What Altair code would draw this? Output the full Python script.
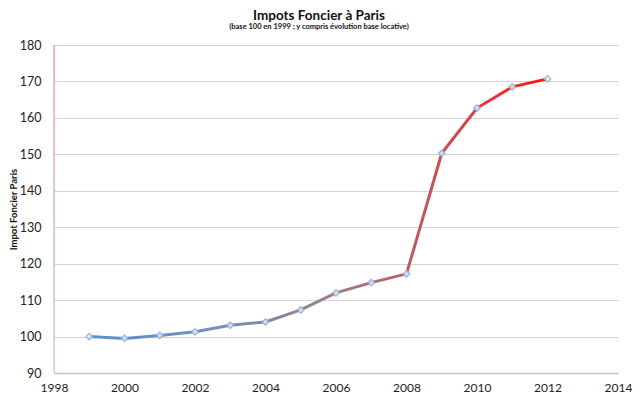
import altair as alt
import pandas as pd

years = [1999, 2000, 2001, 2002, 2003, 2004, 2005, 2006, 2007, 2008, 2009, 2010, 2011, 2012]
values = [100.0, 99.5, 100.3, 101.3, 103.1, 104.0, 107.3, 112.0, 114.8, 117.2, 150.3, 162.7, 168.5, 170.7]

x_ticks = [1998, 2000, 2002, 2004, 2006, 2008, 2010, 2012, 2014]
y_ticks = [90, 100, 110, 120, 130, 140, 150, 160, 170, 180]

title_text = "Impots Foncier à Paris"
subtitle_text = "(base 100 en 1999 ; y compris évolution base locative)"
y_title = "Impot Foncier Paris"

df = pd.DataFrame({"year": years, "value": values})
FONT = "Lato"
PLOT_H = 328

x_axis = alt.Axis(values=x_ticks, format="d", title=None, grid=False, ticks=False,
                  domain=True, domainColor="#c6c6c6", domainWidth=1.5,
                  labelPadding=9, labelFontSize=12, labelColor="#222222", labelFont=FONT,
                  labelFlush=False, labelOverlap=False)
y_axis = alt.Axis(values=y_ticks, title=y_title, grid=True, gridColor="#d3d3d3", gridWidth=1.2,
                  ticks=False, domain=False, labelPadding=13, labelFontSize=12.5,
                  labelColor="#222222", labelFont=FONT, labelFlush=False, labelOverlap=False,
                  titleFont=FONT, titleFontSize=9.5, titleFontWeight="bold", titleColor="#111111",
                  titleX=-36, titleY=PLOT_H / 2, titleAngle=-90, titleAlign="center",
                  titleBaseline="bottom")
x_scale = alt.Scale(domain=[x_ticks[0], x_ticks[-1]], nice=False, zero=False)
y_scale = alt.Scale(domain=[y_ticks[0], y_ticks[-1]], nice=False, zero=False)

line_grad = alt.Gradient(
    gradient="linear", x1=0, x2=1, y1=0, y2=0,
    stops=[
        alt.GradientStop(color="#5b90d4", offset=0),
        alt.GradientStop(color="#7890b2", offset=0.3),
        alt.GradientStop(color="#a07c86", offset=0.55),
        alt.GradientStop(color="#c0585a", offset=0.72),
        alt.GradientStop(color="#e03c3c", offset=0.85),
        alt.GradientStop(color="#ff1414", offset=1),
    ],
)

line = alt.Chart(df).mark_line(color=line_grad, strokeWidth=3).encode(
    x=alt.X("year:Q", scale=x_scale, axis=x_axis),
    y=alt.Y("value:Q", scale=y_scale, axis=y_axis))
points = alt.Chart(df).mark_point(shape="diamond", filled=True, fill="#eef3fa", fillOpacity=0.8,
                                  stroke="#8fb1de", strokeWidth=1.2, size=42, opacity=1).encode(
    x=alt.X("year:Q", scale=x_scale, axis=x_axis),
    y=alt.Y("value:Q", scale=y_scale, axis=y_axis))

axis_grad = alt.Gradient(
    gradient="linear", x1=0, x2=0, y1=0, y2=1,
    stops=[alt.GradientStop(color="#f08686", offset=0),
           alt.GradientStop(color="#c8a4b8", offset=0.5),
           alt.GradientStop(color="#a6c2e4", offset=1)],
)
yline = alt.Chart(pd.DataFrame({"k": [0]})).mark_rect(color=axis_grad).encode(
    x=alt.value(-0.5), x2=alt.value(0.7),
    y=alt.Y(datum=y_ticks[-1], scale=y_scale, axis=y_axis), y2=alt.datum(y_ticks[0]))

chart = alt.layer(line, points, yline).properties(
    width=564, height=PLOT_H,
    autosize=alt.AutoSizeParams(type="none"),
    padding={"left": 46, "top": 37, "right": 14, "bottom": 23},
    title=alt.TitleParams(text=title_text, subtitle=subtitle_text, anchor="middle", dx=-17,
                          font=FONT, fontSize=13.5, fontWeight="bold", color="#111111",
                          subtitleFont=FONT, subtitleFontSize=7.5, subtitleFontWeight="bold",
                          subtitleColor="#111111", subtitlePadding=0, offset=9),
).configure_view(stroke=None)

chart.save("out.html", embed_options={"renderer": "svg", "actions": False})
